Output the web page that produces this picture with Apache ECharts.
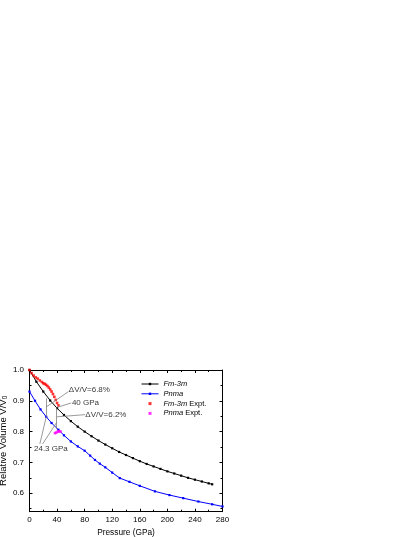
<!DOCTYPE html>
<html>
<head>
<meta charset="utf-8">
<script src="https://cdn.jsdelivr.net/npm/echarts@6/dist/echarts.min.js"></script>
<style>
  html, body { margin: 0; padding: 0; background: #fff; }
  #chart { width: 415px; height: 537px; }
</style>
</head>
<body>
<div id="chart"></div>
<script>
// Fm-3m calculated curve (pressure GPa, relative volume)
const fmP = [0, 10, 20, 30, 40, 50, 60, 70, 80, 90, 100, 110, 120, 130, 140, 150, 160, 170, 180, 190, 200, 210, 220, 230, 240, 250, 260, 265];
const fmV = [1.0, 0.962, 0.930, 0.901, 0.876, 0.854, 0.834, 0.816, 0.800, 0.785, 0.771, 0.758, 0.746, 0.734, 0.724, 0.714, 0.704, 0.695, 0.687, 0.679, 0.671, 0.664, 0.657, 0.650, 0.644, 0.638, 0.632, 0.629];

// Pnma calculated curve
const pnP = [0, 8, 16, 24.3, 32, 42, 50, 60, 70, 80, 88, 95, 102, 110, 120, 131, 145, 160, 182, 203, 223, 245, 265, 280];
const pnV = [0.930, 0.900, 0.872, 0.848, 0.828, 0.806, 0.788, 0.768, 0.752, 0.738, 0.722, 0.708, 0.696, 0.684, 0.667, 0.649, 0.637, 0.624, 0.606, 0.594, 0.584, 0.573, 0.564, 0.557];

// experimental points
const fmExpP = [0, 3, 6, 9, 12, 15, 18, 20, 22, 24, 26, 28, 30, 32, 34, 36, 38, 40, 42];
const fmExpV = [1.0, 0.990, 0.982, 0.976, 0.972, 0.966, 0.961, 0.957, 0.955, 0.952, 0.948, 0.943, 0.937, 0.930, 0.922, 0.913, 0.903, 0.893, 0.885];
const pnExpP = [37, 39, 41, 43, 45];
const pnExpV = [0.795, 0.797, 0.800, 0.801, 0.800];

// axis ticks
const yLabels = [0.6, 0.7, 0.8, 0.9, 1.0];
const yMajor = [0.6, 0.7, 0.8, 0.9, 1.0];
const yMinor = [0.55, 0.65, 0.75, 0.85, 0.95];

// annotations
const noteText = ['\u0394V/V=6.8%', '40 GPa', '\u0394V/V=6.2%', '24.3 GPa'];
const notePos = [[57, 0.935], [61.5, 0.893], [81, 0.855], [6.5, 0.743]];
const leaders = [
  [[24.3, 0.848], [24.3, 0.908]],
  [[39.5, 0.878], [39.5, 0.808]],
  [[56.5, 0.930], [24.3, 0.880]],
  [[60.5, 0.893], [40.5, 0.879]],
  [[80.5, 0.855], [39.5, 0.848]],
  [[15, 0.760], [24.3, 0.848]],
  [[19, 0.760], [39.5, 0.830]]
];

const FONT = 'Liberation Sans, Arial, sans-serif';
const zip = (a, b) => a.map((v, i) => [v, b[i]]);
const SQUARE = 'path://M0,0H1V1H0Z';

const chart = echarts.init(document.getElementById('chart'));

const axisCommon = {
  type: 'value',
  axisLine: { onZero: false, lineStyle: { color: '#000', width: 1 } },
  splitLine: { show: false }
};

const option = {
  animation: false,
  backgroundColor: '#fff',
  textStyle: { fontFamily: FONT },
  grid: { left: 29.5, right: 192.5, top: 370, bottom: 25.3, containLabel: false, outerBoundsMode: 'none' },
  legend: {
    orient: 'vertical',
    left: 136,
    top: 375,
    padding: 5,
    itemWidth: 17,
    itemHeight: 3,
    itemGap: 1.8,
    symbolKeepAspect: true,
    lineStyle: { width: 1 },
    textStyle: {
      fontFamily: FONT, fontSize: 7.5, color: '#000', lineHeight: 8,
      rich: { i: { fontStyle: 'italic', fontSize: 7.5, fontFamily: FONT, lineHeight: 8 } }
    },
    formatter: n => n.replace(/^(Fm-3m|Pnma)/, '{i|$1}'),
    data: [
      { name: 'Fm-3m' },
      { name: 'Pnma' },
      { name: 'Fm-3m Expt.', icon: SQUARE },
      { name: 'Pnma Expt.', icon: SQUARE }
    ]
  },
  xAxis: [
    Object.assign({}, axisCommon, {
      min: 0, max: 280, interval: 40, position: 'bottom',
      axisTick: { inside: true, length: 3, lineStyle: { color: '#000' } },
      minorTick: { show: true, splitNumber: 2, length: 2, lineStyle: { color: '#000' } },
      axisLabel: { fontSize: 8, color: '#000', margin: 4, fontFamily: FONT },
      name: 'Pressure (GPa)', nameLocation: 'middle', nameGap: 17,
      nameTextStyle: { fontSize: 8.3, color: '#000', fontFamily: FONT }
    }),
    Object.assign({}, axisCommon, {
      min: 0, max: 280, interval: 40, position: 'top',
      axisTick: { inside: true, length: 3, lineStyle: { color: '#000' } },
      minorTick: { show: true, splitNumber: 2, length: 2, lineStyle: { color: '#000' } },
      axisLabel: { show: false }
    })
  ],
  yAxis: [
    Object.assign({}, axisCommon, {
      min: 0.54, max: 1.0, position: 'left',
      axisTick: { inside: true, length: 3, customValues: yMajor, lineStyle: { color: '#000' } },
      axisLabel: { customValues: yLabels, fontSize: 8, color: '#000', margin: 5.5, fontFamily: FONT,
        formatter: v => v.toFixed(1) },
      name: 'Relative Volume V/V{s|0}', nameLocation: 'middle', nameGap: 20,
      nameTextStyle: { fontSize: 9.5, color: '#000', fontFamily: FONT,
        rich: { s: { fontSize: 6.5, fontFamily: FONT, verticalAlign: 'bottom', padding: [5, 0, 0, 0] } } }
    }),
    Object.assign({}, axisCommon, {
      min: 0.54, max: 1.0, position: 'left',
      axisLine: { show: false, onZero: false },
      axisTick: { inside: true, length: 2, customValues: yMinor, lineStyle: { color: '#000' } },
      axisLabel: { show: false }
    }),
    Object.assign({}, axisCommon, {
      min: 0.54, max: 1.0, position: 'right',
      axisTick: { inside: true, length: 3, customValues: yMajor, lineStyle: { color: '#000' } },
      axisLabel: { show: false }
    }),
    Object.assign({}, axisCommon, {
      min: 0.54, max: 1.0, position: 'right',
      axisLine: { show: false, onZero: false },
      axisTick: { inside: true, length: 2, customValues: yMinor, lineStyle: { color: '#000' } },
      axisLabel: { show: false }
    })
  ],
  series: [
    {
      name: 'Fm-3m', type: 'line', data: zip(fmP, fmV),
      symbol: 'rect', symbolSize: 2.2, showAllSymbol: true,
      itemStyle: { color: '#000' }, lineStyle: { color: '#000', width: 1 }, z: 3
    },
    {
      name: 'Pnma', type: 'line', data: zip(pnP, pnV),
      symbol: 'rect', symbolSize: 2.2, showAllSymbol: true,
      itemStyle: { color: '#0000ff' }, lineStyle: { color: '#0000ff', width: 1 }, z: 3
    },
    {
      name: 'Fm-3m Expt.', type: 'scatter', data: zip(fmExpP, fmExpV),
      symbol: 'rect', symbolSize: 2.6, itemStyle: { color: '#ff0000' }, z: 4
    },
    {
      name: 'Pnma Expt.', type: 'scatter', data: zip(pnExpP, pnExpV),
      symbol: 'rect', symbolSize: 2.6, itemStyle: { color: '#ff00ff' }, z: 4
    },
    {
      name: 'notes', type: 'scatter', symbolSize: 0, silent: true, z: 5,
      data: notePos.map((p, i) => ({ value: p, label: { formatter: noteText[i] } })),
      label: { show: true, position: 'right', distance: 0, fontSize: 8, color: '#000', fontFamily: FONT },
      markLine: {
        silent: true, symbol: ['none', 'none'], animation: false,
        label: { show: false },
        lineStyle: { color: '#808080', width: 0.8, type: 'solid' },
        emphasis: { disabled: true },
        data: leaders.map(l => [{ coord: l[0] }, { coord: l[1] }])
      }
    }
  ]
};

chart.setOption(option);
</script>
</body>
</html>
